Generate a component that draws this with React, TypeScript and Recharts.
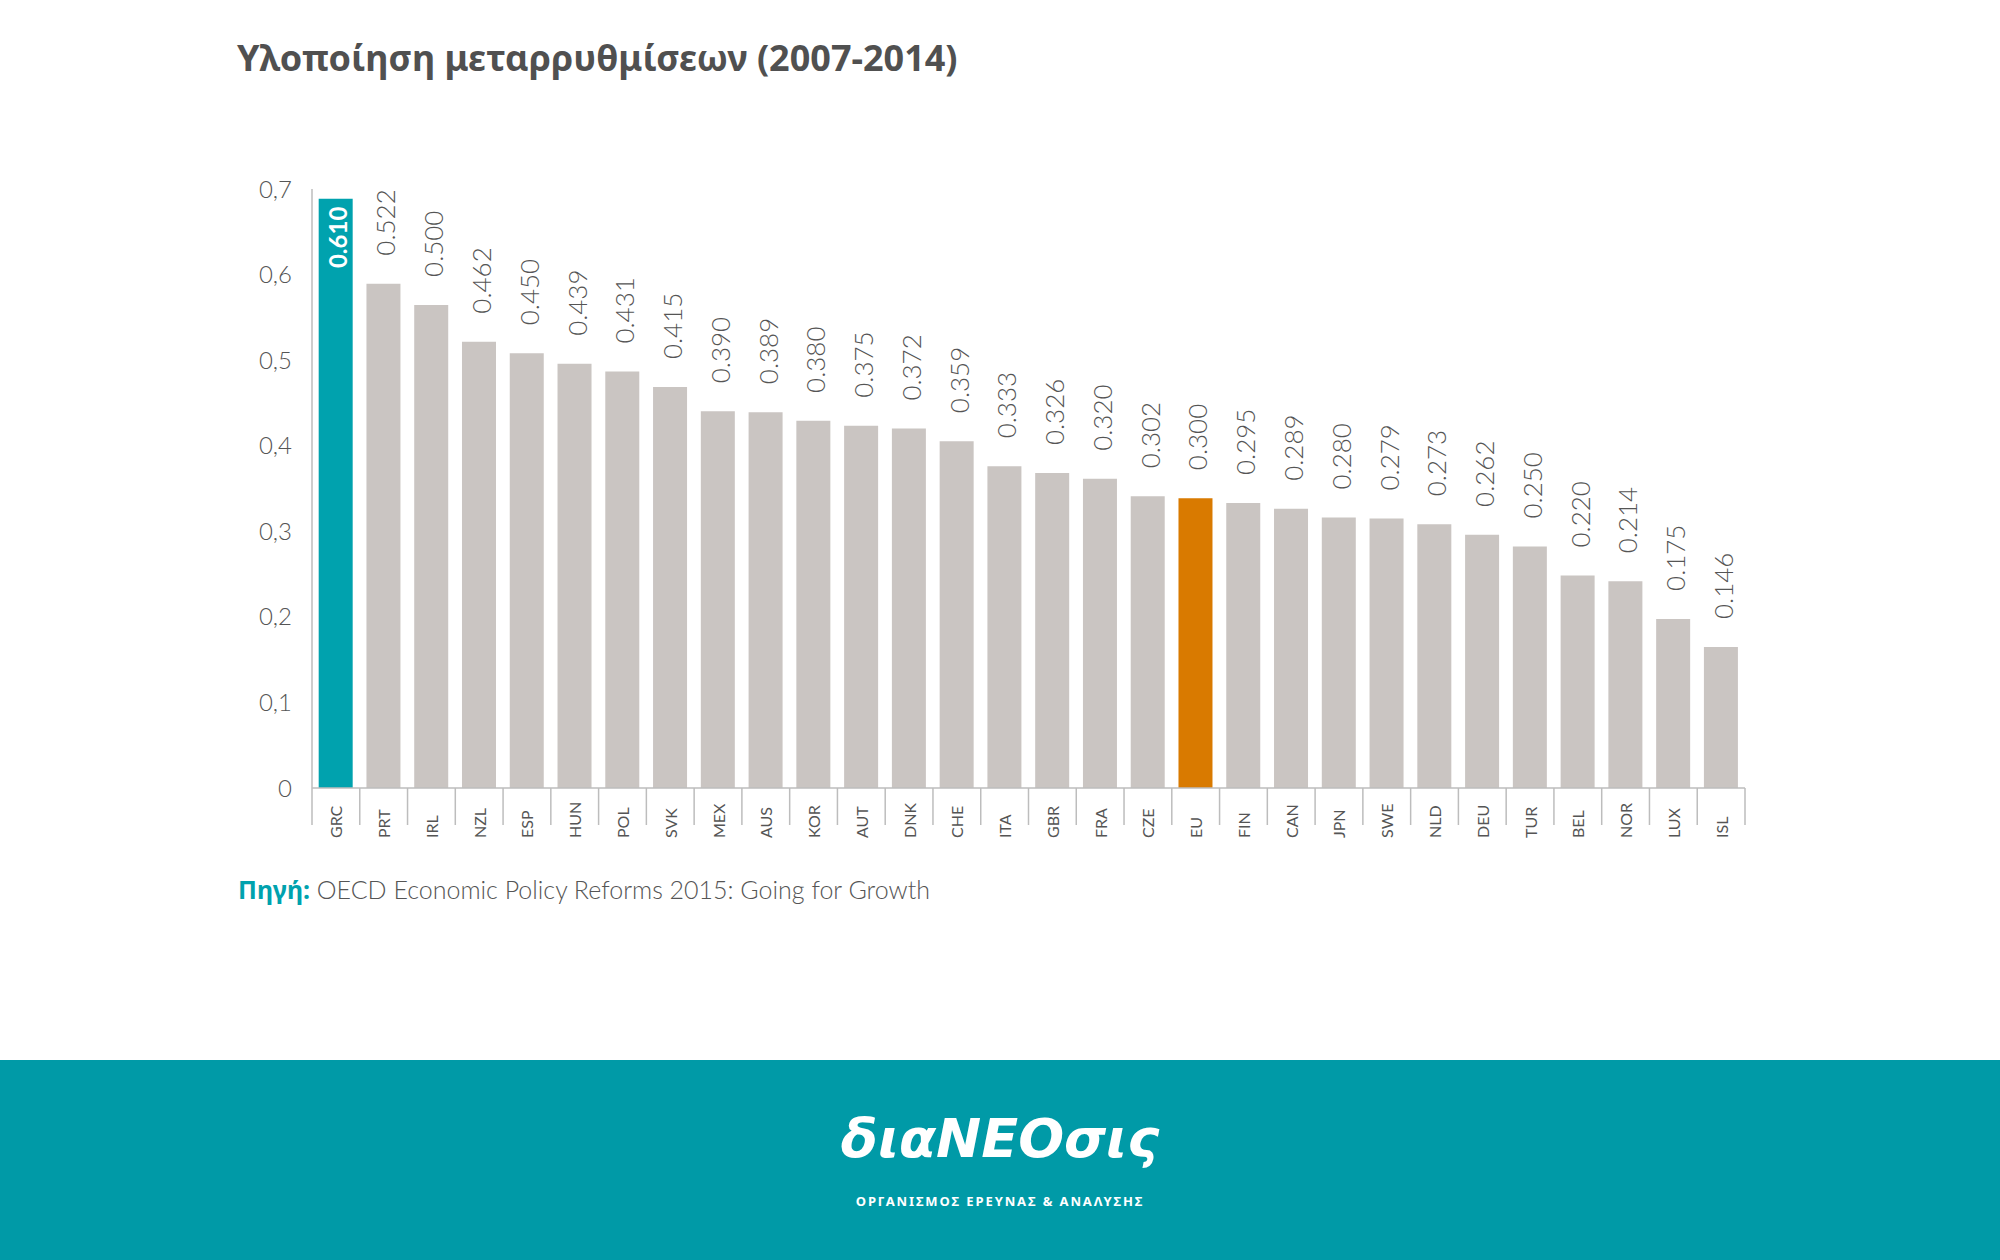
import { ComposedChart, Bar, Line, XAxis, YAxis, Cell, LabelList } from "recharts"

const countries = [
  "GRC", "PRT", "IRL", "NZL", "ESP", "HUN", "POL", "SVK", "MEX", "AUS",
  "KOR", "AUT", "DNK", "CHE", "ITA", "GBR", "FRA", "CZE", "EU", "FIN",
  "CAN", "JPN", "SWE", "NLD", "DEU", "TUR", "BEL", "NOR", "LUX", "ISL",
]

const scores = [
  0.61, 0.522, 0.5, 0.462, 0.45, 0.439, 0.431, 0.415, 0.39, 0.389,
  0.38, 0.375, 0.372, 0.359, 0.333, 0.326, 0.32, 0.302, 0.3, 0.295,
  0.289, 0.28, 0.279, 0.273, 0.262, 0.25, 0.22, 0.214, 0.175, 0.146,
]

const axisTicks = [0, 0.1, 0.2, 0.3, 0.4, 0.5, 0.6, 0.7]

const data = countries.map((c, i) => ({ country: c, value: scores[i] }))

const TEAL = "#00a2ae"
const ORANGE = "#d97a00"
const GREY = "#cac5c2"
const TEXT = "#555555"

const CHART_W = 2000
const CHART_H = 1000
const M = { top: 189, right: 255, left: 232, bottom: 152 }
const PLOT_W = CHART_W - M.left - 80 - M.right
const STEP = PLOT_W / countries.length

function barColor(c: string) {
  if (c === "GRC") return TEAL
  if (c === "EU") return ORANGE
  return GREY
}

function CountryTick(props: any) {
  const { x, y, payload, index } = props
  const last = index === countries.length - 1
  return (
    <g>
      <line x1={x - STEP / 2} x2={x - STEP / 2} y1={y} y2={y + 37} stroke="#bdbdbd" strokeWidth={1.5} />
      {last && <line x1={x + STEP / 2} x2={x + STEP / 2} y1={y} y2={y + 37} stroke="#bdbdbd" strokeWidth={1.5} />}
      <text
        x={x}
        y={y + 50}
        transform={`rotate(-90, ${x}, ${y + 50})`}
        textAnchor="start"
        dominantBaseline="central"
        fontSize={16}
        fill={TEXT}
        fontFamily="Lato, sans-serif"
      >
        {payload.value}
      </text>
    </g>
  )
}

function ValueLabel(props: any) {
  const { x, y, width, value, index } = props
  const cx = x + width / 2 + 2
  const inside = countries[index] === "GRC"
  const ty = inside ? y + 8 : y - 28
  return (
    <text
      x={cx}
      y={ty}
      transform={`rotate(-90, ${cx}, ${ty})`}
      textAnchor={inside ? "end" : "start"}
      dominantBaseline="central"
      fontSize={inside ? 24 : 26}
      fontWeight={inside ? 700 : 300}
      fill={inside ? "#ffffff" : TEXT}
      fontFamily="Lato, sans-serif"
    >
      {Number(value).toFixed(3)}
    </text>
  )
}

export default function App() {
  return (
    <div style={{ position: "absolute", left: 0, top: 0, width: 2000, height: 1260, background: "#fff", overflow: "hidden" }}>
      <div
        style={{
          position: "absolute",
          left: 237,
          top: 40,
          fontSize: 36,
          fontWeight: 700,
          color: "#505050",
          fontFamily: "'Noto Sans', sans-serif",
          lineHeight: 1,
        }}
      >
        Υλοποίηση μεταρρυθμίσεων (2007-2014)
      </div>

      <div style={{ position: "absolute", left: 0, top: 0 }}>
        <ComposedChart width={CHART_W} height={CHART_H} data={data} margin={M} barCategoryGap="14%">
          <XAxis
            dataKey="country"
            interval={0}
            height={60}
            tickSize={0}
            tickMargin={0}
            tickLine={false}
            axisLine={{ stroke: "#bdbdbd", strokeWidth: 1.5 }}
            tick={<CountryTick />}
          />
          <YAxis yAxisId="bars" type="number" domain={[0, 0.62]} width={0} hide />
          <YAxis
            yAxisId="scale"
            type="number"
            domain={[0, 0.7]}
            ticks={axisTicks}
            width={80}
            tickLine={false}
            tickSize={6}
            tickMargin={14}
            axisLine={{ stroke: "#bdbdbd", strokeWidth: 1.5 }}
            tick={{ fontSize: 24, fill: TEXT, fontFamily: "Lato, sans-serif", fontWeight: 300 }}
            tickFormatter={(v: number) => (v === 0 ? "0" : v.toFixed(1).replace(".", ","))}
          />
          <Bar dataKey="value" yAxisId="bars" isAnimationActive={false}>
            {data.map((d) => (
              <Cell key={d.country} fill={barColor(d.country)} />
            ))}
            <LabelList dataKey="value" content={<ValueLabel />} />
          </Bar>
          <Line
            dataKey="value"
            yAxisId="scale"
            stroke="transparent"
            dot={false}
            activeDot={false}
            isAnimationActive={false}
          />
        </ComposedChart>
      </div>

      <div
        style={{
          position: "absolute",
          left: 238,
          top: 874,
          fontSize: 25,
          color: TEXT,
          fontFamily: "Lato, sans-serif",
          fontWeight: 300,
          lineHeight: 1.2,
        }}
      >
        <span style={{ color: TEAL, fontWeight: 700, fontFamily: "'Noto Sans', sans-serif" }}>Πηγή:</span> OECD Economic
        Policy Reforms 2015: Going for Growth
      </div>

      <div style={{ position: "absolute", left: 0, top: 1060, width: 2000, height: 200, background: "#009aa7" }}>
        <div
          style={{
            position: "absolute",
            left: 0,
            width: 2000,
            top: 52,
            textAlign: "center",
            color: "#fff",
            fontSize: 54,
            fontStyle: "italic",
            fontWeight: 700,
            fontFamily: "'DejaVu Sans', sans-serif",
            lineHeight: 1,
          }}
        >
          διαΝΕΟσις
        </div>
        <div
          style={{
            position: "absolute",
            left: 0,
            width: 2000,
            top: 132,
            textAlign: "center",
            color: "#fff",
            fontSize: 13,
            fontWeight: 700,
            letterSpacing: 1.9,
            fontFamily: "'Noto Sans', sans-serif",
          }}
        >
          ΟΡΓΑΝΙΣΜΟΣ ΕΡΕΥΝΑΣ &amp; ΑΝΑΛΥΣΗΣ
        </div>
      </div>
    </div>
  )
}
